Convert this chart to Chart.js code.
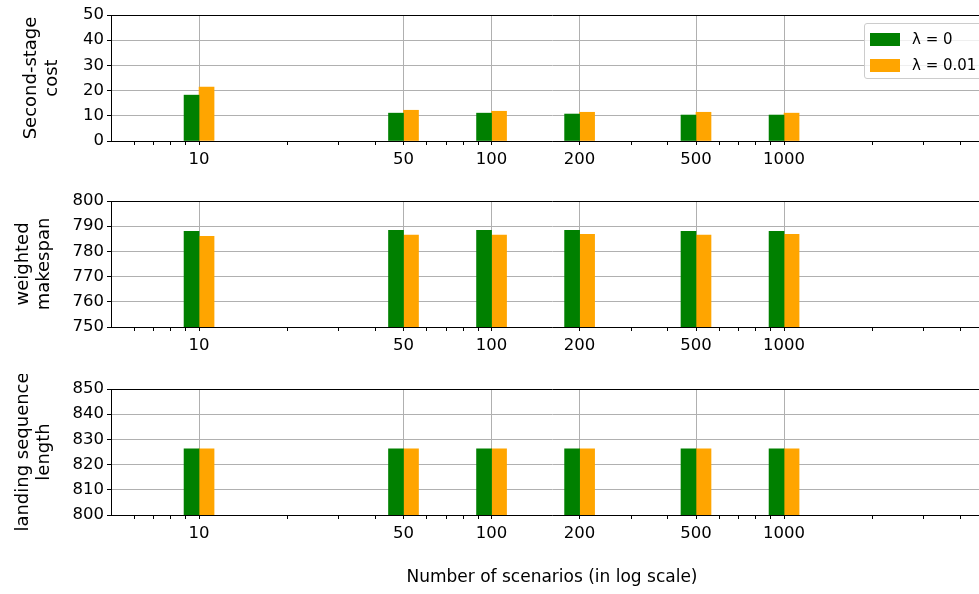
<!DOCTYPE html>
<html>
<head>
<meta charset="utf-8">
<script src="https://cdn.jsdelivr.net/npm/chart.js@4.4.1/dist/chart.umd.min.js"></script>
<style>
    html, body { margin: 0; padding: 0; background: #fff; overflow: hidden; width: 979px; height: 594px; }
    canvas { position: absolute; left: 0; }
    #legend {
        position: absolute; left: 864px; top: 23px; width: 122px; height: 56px;
        box-sizing: border-box; border: 1px solid #cccccc; border-radius: 3px;
        background: rgba(255, 255, 255, 0.8);
        font-family: 'DejaVu Sans'; font-size: 15px; color: #000;
    }
    .row { position: absolute; left: 5px; height: 20px; display: flex; align-items: center; }
    .swatch { width: 30px; height: 13px; margin-right: 12px; }
</style>
</head>
<body>
<canvas id="costChart" width="1000" height="175" style="top:0px"></canvas>
<canvas id="makespanChart" width="1000" height="175" style="top:186px"></canvas>
<canvas id="lengthChart" width="1000" height="220" style="top:374px"></canvas>
<div id="legend">
    <div class="row" style="top:5px"><div class="swatch" style="background:green"></div>λ = 0</div>
    <div class="row" style="top:31px"><div class="swatch" style="background:orange"></div>λ = 0.01</div>
</div>
<script>
const scenarios = [10, 50, 100, 200, 500, 1000];
const seriesNames = ['λ = 0', 'λ = 0.01'];

const costLambda0 = [18.2, 11.05, 11.05, 10.7, 10.3, 10.3];
const costLambda001 = [21.4, 12.2, 11.8, 11.4, 11.4, 11.05];

const makespanLambda0 = [788.0, 788.4, 788.4, 788.4, 788.0, 788.0];
const makespanLambda001 = [786.0, 786.5, 786.5, 786.8, 786.5, 786.8];

const lengthLambda0 = [826.3, 826.3, 826.3, 826.3, 826.3, 826.3];
const lengthLambda001 = [826.3, 826.3, 826.3, 826.3, 826.3, 826.3];

const majorTicks = [10, 50, 100, 200, 500, 1000];
const minorTicks = [6, 7, 8, 9, 20, 30, 40, 60, 70, 80, 90,
    300, 400, 600, 700, 800, 900, 2000, 3000, 4000, 5000];
const xMin = 5;
const xMax = 5180;

const gridColor = '#b0b0b0';

Chart.defaults.font.family = 'DejaVu Sans';
Chart.defaults.color = '#000';

function createPanel(canvasId, title, yMin, yMax, green, orange, showXTitle) {
    const canvas = document.getElementById(canvasId);
    const canvasHeight = canvas.height;

    return new Chart(canvas.getContext('2d'), {
        type: 'bar',
        data: {
            labels: scenarios,
            datasets: [
                { label: seriesNames[0], data: green, backgroundColor: 'green', barThickness: 15 },
                { label: seriesNames[1], data: orange, backgroundColor: 'orange', barThickness: 15 }
            ]
        },
        options: {
            responsive: false,
            animation: false,
            layout: { padding: { top: 15, right: 7, left: 0, bottom: 0 } },
            plugins: {
                legend: { display: false },
                tooltip: { enabled: false }
            },
            scales: {
                x: {
                    type: 'logarithmic',
                    min: xMin,
                    max: xMax,
                    offset: false,
                    z: 1,
                    afterBuildTicks: scale => {
                        const all = majorTicks.concat(minorTicks).sort((a, b) => a - b);
                        scale.ticks = all.map(v => ({ value: v, major: false }));
                    },
                    afterFit: scale => { scale.height = canvasHeight - 141; },
                    ticks: {
                        autoSkip: false,
                        maxRotation: 0,
                        padding: 5,
                        font: { size: 16.5 },
                        callback: value => majorTicks.includes(value) ? String(value) : ''
                    },
                    grid: {
                        offset: false,
                        lineWidth: 1,
                        tickLength: 4,
                        color: ctx => ctx.tick && majorTicks.includes(ctx.tick.value) ? gridColor : 'rgba(0,0,0,0)',
                        tickColor: '#000'
                    },
                    border: { color: '#000', width: 1 },
                    title: {
                        display: showXTitle,
                        text: 'Number of scenarios (in log scale)',
                        font: { size: 17 },
                        padding: { top: 0, bottom: 6 }
                    }
                },
                y: {
                    min: yMin,
                    max: yMax,
                    z: 1,
                    afterFit: scale => { scale.width = 111; },
                    ticks: { stepSize: 10, padding: 3, font: { size: 16.5 } },
                    grid: {
                        lineWidth: 1,
                        tickLength: 4,
                        color: ctx => ctx.tick && ctx.tick.value === yMax ? '#000' : gridColor,
                        tickColor: '#000'
                    },
                    border: { color: '#000', width: 1 },
                    title: {
                        display: true,
                        text: title,
                        font: { size: 18, lineHeight: 1.15 },
                        padding: { top: yMax <= 50 ? 21 : 13, bottom: 0 }
                    }
                }
            }
        }
    });
}

createPanel('costChart', ['Second-stage', 'cost'], 0, 50, costLambda0, costLambda001, false);
createPanel('makespanChart', ['weighted', 'makespan'], 750, 800, makespanLambda0, makespanLambda001, false);
createPanel('lengthChart', ['landing sequence', 'length'], 800, 850, lengthLambda0, lengthLambda001, true);
</script>
</body>
</html>
